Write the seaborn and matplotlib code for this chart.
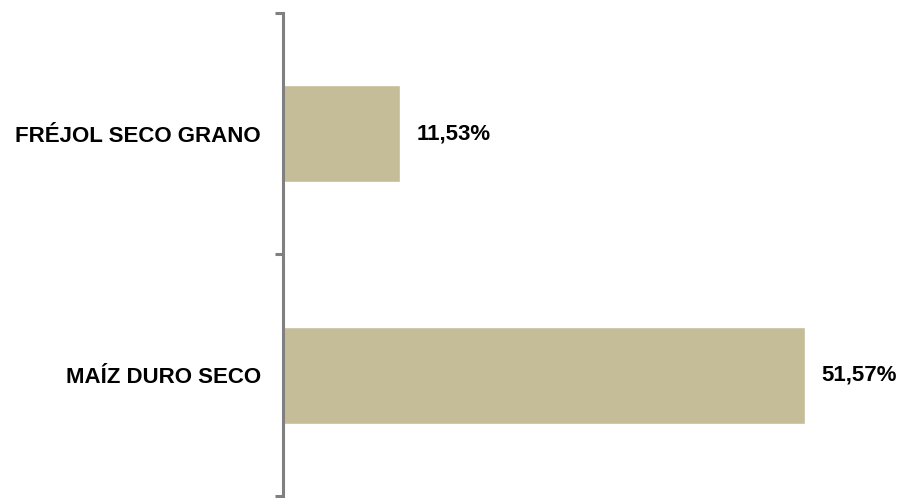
import matplotlib
matplotlib.use("Agg")
import matplotlib.pyplot as plt
import seaborn as sns
import pandas as pd

# data
productos = ["FRÉJOL SECO GRANO", "MAÍZ DURO SECO"]
porcentajes = [11.53, 51.57]

df = pd.DataFrame({"Producto": productos, "Porcentaje": porcentajes})

sns.set_style("white")
plt.rcParams["font.family"] = ["Liberation Sans", "DejaVu Sans"]

fig = plt.figure(figsize=(9, 4.98), dpi=100)
ax = fig.add_axes([283 / 900, 2 / 498, 607 / 900, 483 / 498])

sns.barplot(data=df, y="Producto", x="Porcentaje", orient="h",
            color="#C4BD97", saturation=1, width=0.4, ax=ax)

ax.set_xlim(0, 60)
ax.set_ylim(1.5, -0.5)
ax.set_xlabel("")
ax.set_ylabel("")
ax.set_xticks([])

# category labels on minor ticks, boundary ticks on major
ax.set_yticks([-0.5, 0.5, 1.5])
ax.set_yticklabels([])
ax.set_yticks([0, 1], minor=True)
ax.set_yticklabels(productos, minor=True, fontsize=16, fontweight="bold", color="black")
ax.tick_params(axis="y", which="major", left=True, length=6, width=2.2,
               color="#808080", direction="out")
ax.tick_params(axis="y", which="minor", left=True, length=0, pad=16)

for side in ["top", "right", "bottom"]:
    ax.spines[side].set_visible(False)
ax.spines["left"].set_color("#808080")
ax.spines["left"].set_linewidth(2.2)

labels = [f"{v:.2f}%".replace(".", ",") for v in porcentajes]
ax.bar_label(ax.containers[0], labels=labels, padding=12,
             fontsize=16, fontweight="bold", color="black")

fig.savefig("out.png", dpi=100)
